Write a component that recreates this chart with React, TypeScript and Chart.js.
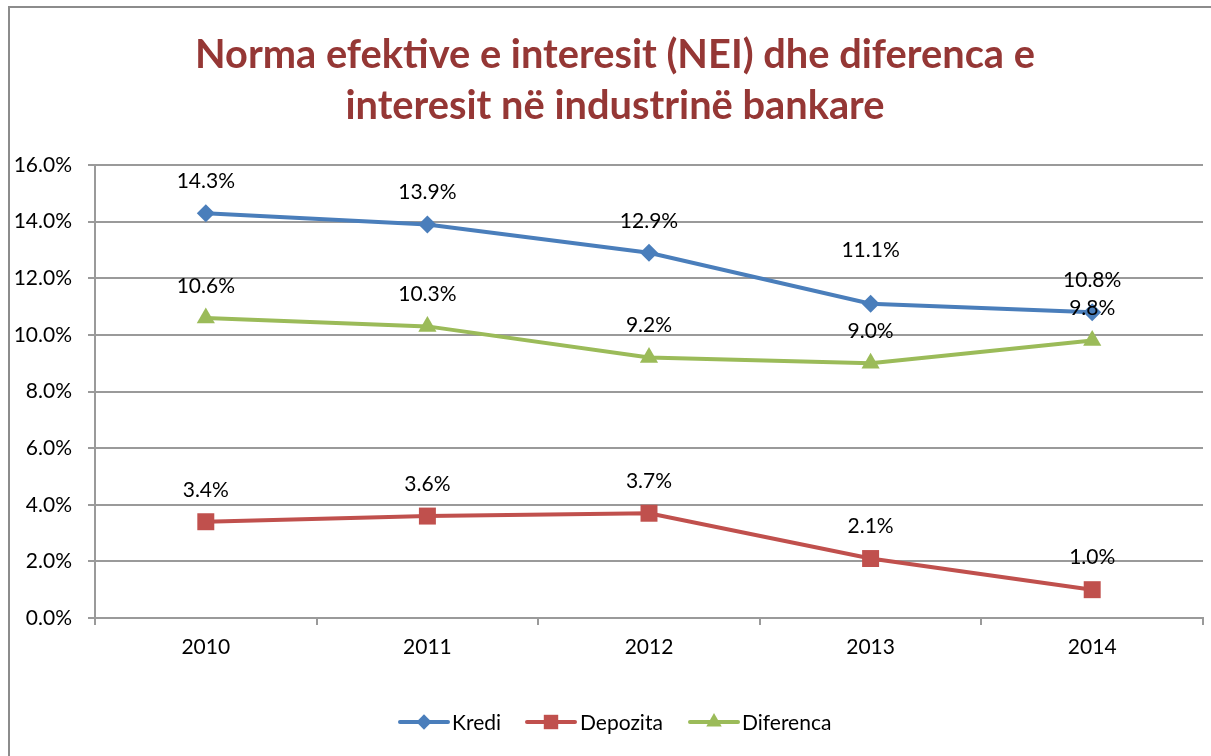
import React, { useEffect, useRef } from "react";
import { Chart, registerables } from "chart.js";

Chart.register(...registerables);

const years = ["2010", "2011", "2012", "2013", "2014"];
const kredi = [14.3, 13.9, 12.9, 11.1, 10.8];
const depozita = [3.4, 3.6, 3.7, 2.1, 1.0];
const diferenca = [10.6, 10.3, 9.2, 9.0, 9.8];
const titleLines = ["Norma efektive e interesit (NEI) dhe diferenca e", "interesit në industrinë bankare"];
const seriesNames = ["Kredi", "Depozita", "Diferenca"];

const FONT = "Lato, 'Open Sans', sans-serif";
const FS = 21;
const GRID = "#9a9a9a";
const COLORS = ["#4A7EBB", "#C0504D", "#9BBB59"];
const POINT_STYLES = ["rectRot", "rect", "triangle"] as const;
const POINT_RADII = [9, 12, 10.5];

const fmt = (v: number) => v.toFixed(1) + "%";

const drawMarker = (ctx: CanvasRenderingContext2D, style: string, x: number, y: number, r: number) => {
  ctx.beginPath();
  if (style === "rectRot") {
    ctx.moveTo(x, y - r);
    ctx.lineTo(x + r, y);
    ctx.lineTo(x, y + r);
    ctx.lineTo(x - r, y);
  } else if (style === "rect") {
    const s = Math.SQRT1_2 * r;
    ctx.rect(x - s, y - s, 2 * s, 2 * s);
  } else {
    ctx.moveTo(x, y - r);
    ctx.lineTo(x + r * Math.sin((2 * Math.PI) / 3), y - r * Math.cos((2 * Math.PI) / 3));
    ctx.lineTo(x + r * Math.sin((4 * Math.PI) / 3), y - r * Math.cos((4 * Math.PI) / 3));
  }
  ctx.closePath();
  ctx.fill();
};

const decorPlugin = {
  id: "decor",
  beforeDraw(chart: any) {
    const ctx = chart.ctx as CanvasRenderingContext2D;
    ctx.save();
    ctx.fillStyle = "#ffffff";
    ctx.fillRect(0, 0, chart.width, chart.height);
    ctx.strokeStyle = "#8c8c8c";
    ctx.lineWidth = 2;
    ctx.strokeRect(9, 7, chart.width + 20, chart.height + 20);
    ctx.restore();
  },
  afterDraw(chart: any) {
    const ctx = chart.ctx as CanvasRenderingContext2D;
    ctx.save();
    // Title
    const targetW = 840;
    let size = 38;
    ctx.font = `bold ${size}px ${FONT}`;
    const w = ctx.measureText(titleLines[0]).width;
    size = Math.min(44, Math.max(30, size * (targetW / w)));
    ctx.font = `bold ${size}px ${FONT}`;
    ctx.fillStyle = "#953735";
    ctx.textAlign = "center";
    ctx.textBaseline = "middle";
    ctx.fillText(titleLines[0], 615, 55);
    ctx.fillText(titleLines[1], 615, 106);

    // Data labels (Kredi 2013 label sits higher, as in the original)
    ctx.font = `${FS}px ${FONT}`;
    ctx.fillStyle = "#000000";
    chart.data.datasets.forEach((ds: any, i: number) => {
      const meta = chart.getDatasetMeta(i);
      meta.data.forEach((pt: any, j: number) => {
        const off = i === 0 && j === 3 ? 53 : 32;
        ctx.fillText(fmt(ds.data[j]), pt.x, pt.y - off);
      });
    });

    // Legend
    const ly = 722;
    const items = [
      { lx: 400, tx: 452 },
      { lx: 527, tx: 580 },
      { lx: 690, tx: 742 },
    ];
    items.forEach((it, i) => {
      ctx.strokeStyle = COLORS[i];
      ctx.lineWidth = 4;
      ctx.lineCap = "round";
      ctx.beginPath();
      ctx.moveTo(it.lx, ly);
      ctx.lineTo(it.lx + 48, ly);
      ctx.stroke();
      ctx.fillStyle = COLORS[i];
      drawMarker(ctx, POINT_STYLES[i], it.lx + 24, ly, POINT_RADII[i] * 0.85);
      ctx.fillStyle = "#000000";
      ctx.textAlign = "left";
      ctx.font = `${FS}px ${FONT}`;
      ctx.fillText(seriesNames[i], it.tx, ly + 1);
    });
    ctx.restore();
  },
};

export default function App() {
  const ref = useRef<HTMLCanvasElement | null>(null);
  useEffect(() => {
    document.body.style.margin = "0";
    const seriesData = [kredi, depozita, diferenca];
    const chart = new Chart(ref.current as HTMLCanvasElement, {
      type: "line",
      data: {
        labels: years,
        datasets: seriesData.map((d, i) => ({
          label: seriesNames[i],
          data: d,
          borderColor: COLORS[i],
          backgroundColor: COLORS[i],
          borderWidth: 4,
          pointStyle: POINT_STYLES[i],
          pointRadius: POINT_RADII[i],
          pointBorderWidth: 0,
          pointBackgroundColor: COLORS[i],
          tension: 0,
          fill: false,
        })),
      },
      options: {
        animation: false,
        responsive: false,
        maintainAspectRatio: false,
        layout: { autoPadding: false, padding: { left: 10, right: 8, top: 165, bottom: 88 } },
        plugins: {
          legend: { display: false },
          title: { display: false },
          tooltip: { enabled: false },
        },
        scales: {
          x: {
            offset: true,
            grid: {
              offset: true,
              drawOnChartArea: false,
              drawTicks: true,
              tickLength: 7,
              color: GRID,
              lineWidth: 2,
            },
            border: { display: true, color: GRID, width: 2 },
            ticks: { padding: 10, color: "#000", font: { family: FONT, size: FS } },
            afterFit: (s: any) => {
              s.height = 50;
            },
          },
          y: {
            min: 0,
            max: 16,
            grid: { color: GRID, lineWidth: 2, tickLength: 7 },
            border: { display: true, color: GRID, width: 2 },
            ticks: {
              stepSize: 2,
              padding: 16,
              color: "#000",
              font: { family: FONT, size: FS },
              callback: (v: any) => fmt(Number(v)),
            },
            afterFit: (s: any) => {
              s.width = 85;
            },
          },
        },
      },
      plugins: [decorPlugin],
    });
    return () => chart.destroy();
  }, []);
  return (
    <div style={{ width: 1211, height: 756 }}>
      <canvas ref={ref} width={1211} height={756} style={{ display: "block", width: 1211, height: 756 }} />
    </div>
  );
}
